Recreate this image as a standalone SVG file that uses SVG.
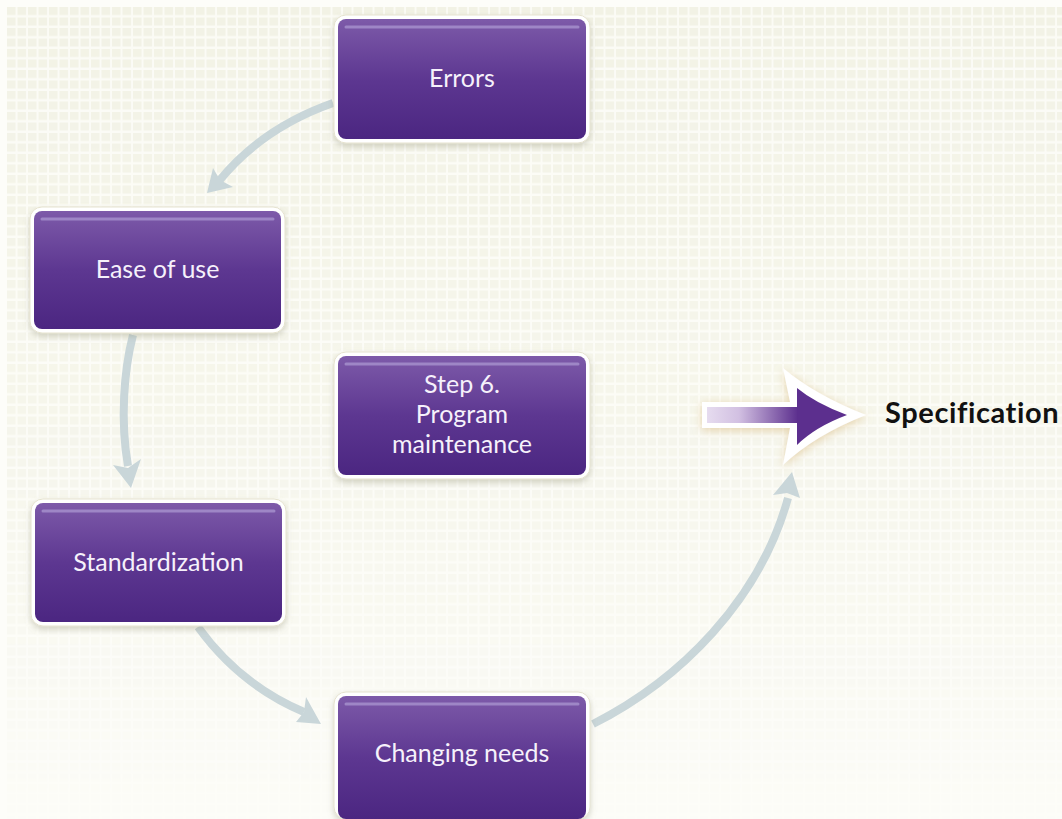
<svg xmlns="http://www.w3.org/2000/svg" width="1062" height="819" viewBox="0 0 1062 819">
<style>
.lbl{font-family:Lato,"Open Sans","Liberation Sans",sans-serif;font-size:25px;fill:#f6f1fb;text-anchor:middle}
.conn{fill:none;stroke:#c9d6d9;stroke-width:8}
.head{fill:#c9d6d9}
.frame{fill:#ffffff;stroke:#e6e3cf;stroke-width:1}
.box{fill:url(#boxg)}
.hl{fill:none;stroke:#a58fcb;stroke-width:3;stroke-linecap:round;opacity:0.85}
</style>
<defs>
<pattern id="grid" width="10.5" height="10.5" patternUnits="userSpaceOnUse" x="7" y="7">
<rect width="10.5" height="10.5" fill="#fbfbf5"/>
<rect x="0" y="0" width="8.5" height="8" fill="#f2f2e5"/>
</pattern>
<linearGradient id="fade" x1="0" y1="0" x2="0" y2="1">
<stop offset="0" stop-color="#fff" stop-opacity="1"/>
<stop offset="0.55" stop-color="#fff" stop-opacity="0.65"/>
<stop offset="1" stop-color="#fff" stop-opacity="0.05"/>
</linearGradient>
<mask id="fm"><rect x="0" y="0" width="1062" height="819" fill="url(#fade)"/></mask>
<linearGradient id="boxg" x1="0" y1="0" x2="0" y2="1">
<stop offset="0" stop-color="#7d5aa9"/>
<stop offset="0.5" stop-color="#5d3791"/>
<stop offset="1" stop-color="#4b2681"/>
</linearGradient>
<linearGradient id="shaftg" x1="0" y1="0" x2="1" y2="0">
<stop offset="0" stop-color="#e6dcef"/>
<stop offset="0.35" stop-color="#d2c0e2"/>
<stop offset="1" stop-color="#5c2f8e"/>
</linearGradient>
<filter id="sh" x="-10%" y="-10%" width="120%" height="130%">
<feDropShadow dx="0" dy="3" stdDeviation="3" flood-color="#8c8a70" flood-opacity="0.35"/>
</filter>
<filter id="glow" x="-30%" y="-30%" width="160%" height="160%">
<feDropShadow dx="0" dy="2" stdDeviation="5" flood-color="#d9b97a" flood-opacity="0.6"/>
</filter>
</defs>

<rect width="1062" height="819" fill="#fdfdf9"/>
<rect x="7" y="7" width="1055" height="812" fill="url(#grid)" mask="url(#fm)"/>

<g id="connectors">
<path class="conn" d="M333,103 Q262,128 219,181"/>
<polygon class="head" points="207,193 213,168 220,180 233,187"/>
<path class="conn" d="M133,335 C124,370 120,420 128,466"/>
<polygon class="head" points="131,488 113,465 128,468 141,459"/>
<path class="conn" d="M198,627 Q240,685 304,712"/>
<polygon class="head" points="321,724 296,722 304,712 306,697"/>
<path class="conn" d="M593,724 C680,680 760,600 788,498"/>
<polygon class="head" points="792,472 773,495 787,493 800,498"/>
</g>

<g id="errors">
<rect class="frame" x="334" y="15" width="256" height="128" rx="12" filter="url(#sh)"/>
<rect class="box" x="338" y="19" width="248" height="120" rx="8"/>
<line class="hl" x1="346" y1="27" x2="578" y2="27"/>
<text class="lbl" x="462" y="87">Errors</text>
</g>

<g id="ease">
<rect class="frame" x="30" y="207" width="255" height="126" rx="12" filter="url(#sh)"/>
<rect class="box" x="34" y="211" width="247" height="118" rx="8"/>
<line class="hl" x1="42" y1="219" x2="273" y2="219"/>
<text class="lbl" x="157.5" y="278">Ease of use</text>
</g>

<g id="step6">
<rect class="frame" x="334" y="352" width="256" height="127" rx="12" filter="url(#sh)"/>
<rect class="box" x="338" y="356" width="248" height="119" rx="8"/>
<line class="hl" x1="346" y1="364" x2="578" y2="364"/>
<text class="lbl" x="462" y="393">Step 6.</text>
<text class="lbl" x="462" y="423">Program</text>
<text class="lbl" x="462" y="453">maintenance</text>
</g>

<g id="standardization">
<rect class="frame" x="31" y="499" width="255" height="127" rx="12" filter="url(#sh)"/>
<rect class="box" x="35" y="503" width="247" height="119" rx="8"/>
<line class="hl" x1="43" y1="511" x2="274" y2="511"/>
<text class="lbl" x="158.5" y="571">Standardization</text>
</g>

<g id="changing">
<rect class="frame" x="334" y="692" width="256" height="127" rx="12" filter="url(#sh)"/>
<rect class="box" x="338" y="696" width="248" height="123" rx="8"/>
<line class="hl" x1="346" y1="704" x2="578" y2="704"/>
<text class="lbl" x="462" y="762">Changing needs</text>
</g>

<g id="specification">
<g filter="url(#glow)">
<path d="M702,402 L790,402 L783,368 Q815,395 866,415 Q815,435 783,465 L790,428 L702,428 Z" fill="#ffffff"/>
</g>
<rect x="707" y="407" width="91" height="16" fill="url(#shaftg)"/>
<path d="M797,388 Q815,403 847,415 Q815,427 797,445 Z" fill="#5c2f8e"/>
<text x="885" y="423" font-family="Lato,'Open Sans','Liberation Sans',sans-serif" font-weight="bold" font-size="29" letter-spacing="0.6" fill="#111">Specification</text>
</g>
</svg>
